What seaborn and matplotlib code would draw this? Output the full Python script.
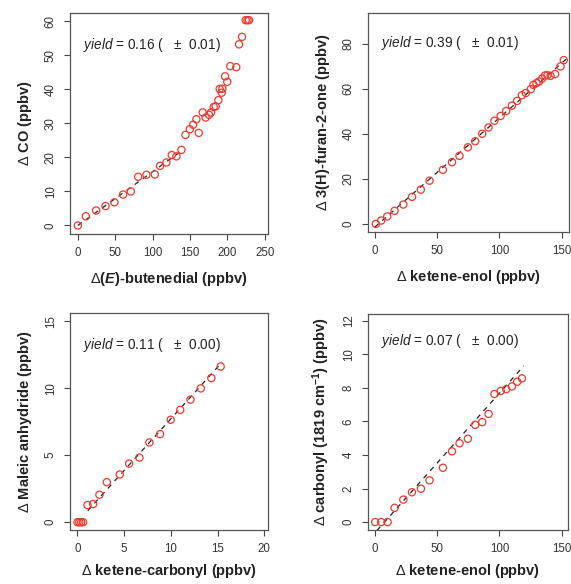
import numpy as np
import pandas as pd
import seaborn as sns
import matplotlib.pyplot as plt

# panel a: CO vs (E)-butenedial
butenedial = [0, 10.7, 24.5, 37, 49, 60.6, 70.9, 80.7, 91.8, 103, 110, 118.5, 125.7, 132,
              138.6, 144, 149.8, 154.3, 158.6, 161.8, 167, 171, 175.6, 178.3, 181.8, 184.5,
              188, 189.8, 193.4, 192.5, 197, 200, 204, 212, 215.7, 219.7, 224.6, 227, 229]
co = [0, 2.7, 4.4, 5.7, 6.8, 9.1, 10, 14.3, 14.9, 15.0, 17.5, 18.5, 20.7, 20.3,
      22.2, 26.6, 28.3, 29.6, 31.2, 27.2, 33.2, 31.7, 32.5, 33.2, 34.8, 35.0,
      36.8, 40.1, 40.2, 39, 43.8, 42.2, 46.8, 46.5, 53.2, 55.4, 60.3, 60.3, 60.3]
fit_a_x = [0, 138]
fit_a_y = [0, 21.8]

# panel b: 3(H)-furan-2-one vs ketene-enol
enol_b = [1, 5.3, 10.1, 16, 23, 30, 37, 44, 54.7, 62, 68, 74.7, 80.6, 86.2, 91.3, 96, 101,
          105.4, 110, 114.2, 118, 121.2, 125.2, 127.3, 129.7, 131.8, 134.2, 136.6, 138.5,
          141, 144.6, 149, 151.6]
furanone = [0, 1.5, 3.3, 5.8, 8.6, 12, 15.2, 19.2, 24, 27.4, 30.2, 34, 36.7, 40, 42.8, 45.8,
            47.9, 50.1, 52.5, 54.6, 57.1, 58.1, 59.8, 61.7, 62.5, 63.2, 64.5, 65.9, 66,
            65.7, 66.5, 69.9, 72.7]
fit_b_x = [0, 157]
fit_b_y = [-1.5, 74.8]

# panel c: maleic anhydride vs ketene-carbonyl
ketcarb = [0, 0.2, 0.4, 0.6, 1.07, 1.68, 2.35, 3.14, 4.53, 5.53, 6.63, 7.7, 8.84, 9.98,
           11.0, 12.1, 13.2, 14.33, 15.33]
maleic = [0, 0, 0, 0, 1.28, 1.36, 2.05, 2.99, 3.56, 4.37, 4.82, 5.95, 6.57, 7.64,
          8.38, 9.14, 9.98, 10.75, 11.61]
fit_c_x = [1.1, 15.5]
fit_c_y = [0.86, 11.95]

# panel d: carbonyl (1819 cm-1) vs ketene-enol
enol_d = [0.5, 5.3, 10.4, 16, 23, 29.9, 37.1, 44, 54.7, 62, 68, 74.7, 80.6, 86.2, 91.3,
          96, 101, 105.4, 110, 114.2, 118]
carbonyl = [0, 0, 0, 0.85, 1.34, 1.78, 1.99, 2.49, 3.24, 4.22, 4.7, 4.97, 5.8, 5.96, 6.45,
            7.64, 7.82, 7.93, 8.09, 8.37, 8.57]
fit_d_x = [1.9, 119.5]
fit_d_y = [-0.5, 9.32]

yields = ["0.16", "0.39", "0.11", "0.07"]
errors = ["0.01", "0.01", "0.00", "0.00"]

sns.set_style("ticks")
plt.rcParams['font.family'] = ['Liberation Sans', 'DejaVu Sans']
plt.rcParams['mathtext.fontset'] = 'custom'
plt.rcParams['mathtext.rm'] = 'Liberation Sans'
plt.rcParams['mathtext.it'] = 'Liberation Sans:italic'
plt.rcParams['mathtext.bf'] = 'Liberation Sans:bold'
plt.rcParams['mathtext.bfit'] = 'Liberation Sans:italic:bold'

fig = plt.figure(figsize=(5.71, 5.84), dpi=100)

panels = [
    dict(x=butenedial, y=co, fx=fit_a_x, fy=fit_a_y, pos=[0.1226, 0.5993, 0.3468, 0.3784],
         xlim=(-10.5, 254.5), ylim=(-2.5, 62.4), xt=[0, 50, 100, 150, 200, 250],
         yt=[0, 10, 20, 30, 40, 50, 60], txt=(6.5, 52.9), lp=8,
         xl=r"$\Delta$($\mathbfit{E}$)-butenedial (ppbv)", yl=r"$\Delta$ CO (ppbv)"),
    dict(x=enol_b, y=furanone, fx=fit_b_x, fy=fit_b_y, pos=[0.6445, 0.6027, 0.352, 0.375],
         xlim=(-5.3, 155.8), ylim=(-3.6, 93.6), xt=[0, 50, 100, 150],
         yt=[0, 20, 40, 60, 80], txt=(5.5, 80.5), lp=8,
         xl=r"$\Delta$ ketene-enol (ppbv)", yl=r"$\Delta$ 3(H)-furan-2-one (ppbv)"),
    dict(x=ketcarb, y=maleic, fx=fit_c_x, fy=fit_c_y, pos=[0.1226, 0.0920, 0.3468, 0.372],
         xlim=(-0.8, 20.4), ylim=(-0.6, 15.6), xt=[0, 5, 10, 15, 20],
         yt=[0, 5, 10, 15], txt=(0.55, 13.2), lp=5,
         xl=r"$\Delta$ ketene-carbonyl (ppbv)", yl=r"$\Delta$ Maleic anhydride (ppbv)"),
    dict(x=enol_d, y=carbonyl, fx=fit_d_x, fy=fit_d_y, pos=[0.6445, 0.0920, 0.350, 0.370],
         xlim=(-5.3, 154.8), ylim=(-0.49, 12.4), xt=[0, 50, 100, 150],
         yt=[0, 2, 4, 6, 8, 10, 12], txt=(5.5, 10.8), lp=5,
         xl=r"$\Delta$ ketene-enol (ppbv)",
         yl=r"$\Delta$ carbonyl (1819 cm$^{\mathbf{-1}}$) (ppbv)"),
]

for i, p in enumerate(panels):
    ax = fig.add_axes(p['pos'])
    df = pd.DataFrame({'x': p['x'], 'y': p['y']})
    fit = pd.DataFrame({'x': p['fx'], 'y': p['fy']})
    sns.lineplot(data=fit, x='x', y='y', ax=ax, color='#222222', lw=0.9,
                 linestyle=(0, (4, 4)), zorder=1)
    sns.scatterplot(data=df, x='x', y='y', ax=ax, marker='o', s=27,
                    facecolor='none', edgecolor='#f0392e', linewidth=0.9, zorder=2)
    ax.set_xlim(p['xlim'])
    ax.set_ylim(p['ylim'])
    ax.set_xticks(p['xt'])
    ax.set_yticks(p['yt'])
    ax.tick_params(axis='both', labelsize=8.3, colors='#444444', labelcolor='#333333',
                   length=4.5, width=0.8, direction='out', pad=5)
    plt.setp(ax.get_yticklabels(), rotation=90, va='center')
    for s in ax.spines.values():
        s.set_visible(True)
        s.set_color('#555555')
        s.set_linewidth(0.9)
    ax.set_xlabel(p['xl'], fontsize=10.5, fontweight='bold', color='#222222', labelpad=p['lp'])
    ax.set_ylabel(p['yl'], fontsize=10.5, fontweight='bold', color='#222222', labelpad=8)
    ax.text(p['txt'][0], p['txt'][1],
            r"$\mathit{yield}$ = " + yields[i] + " (   \u00b1  " + errors[i] + ")",
            fontsize=9.8, color='#222222', va='center', ha='left')

plt.savefig('out.png', dpi=100)
